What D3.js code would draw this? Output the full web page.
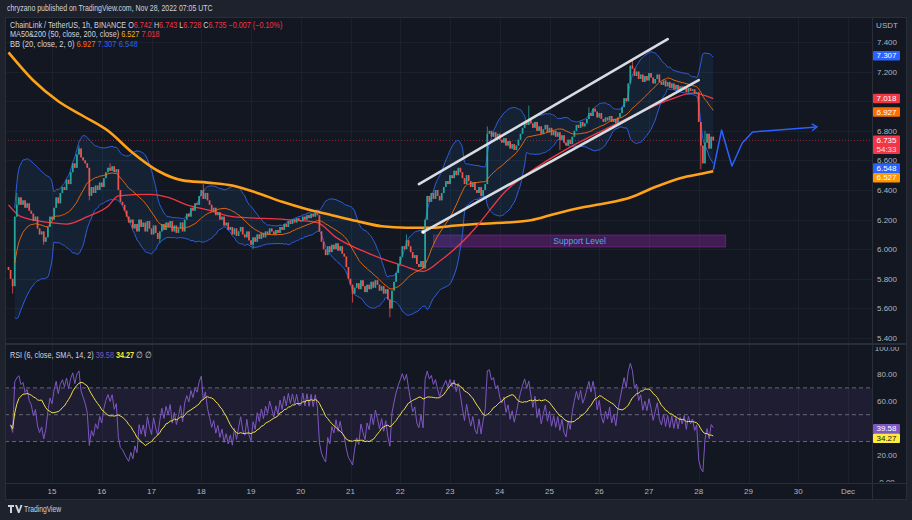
<!DOCTYPE html>
<html>
<head>
<meta charset="utf-8">
<script src="https://cdn.jsdelivr.net/npm/d3@7"></script>
<style>
  html, body { margin: 0; padding: 0; background: #1e222d; }
  svg { display: block; font-family: "Liberation Sans", Arial, sans-serif; }
</style>
</head>
<body>
<div id="chart"></div>
<script>
// ---- data ----
const startHour = Date.UTC(2022, 10, 14, 3); // first hourly bar

// hourly closes, LINK/USDT
const closes = [
  5.86, 5.80, 5.75, 6.22,
  6.30, 6.35, 6.30, 6.33, 6.28, 6.31, 6.26,
  6.24, 6.19, 6.22, 6.14, 6.10, 6.12, 6.05,
  6.08, 6.15, 6.22, 6.20, 6.28,
  6.35, 6.31, 6.38, 6.42, 6.40, 6.47, 6.44, 6.52,
  6.58, 6.55, 6.64, 6.68, 6.62,
  6.60, 6.58, 6.55, 6.36,
  6.42, 6.38, 6.43, 6.40, 6.45, 6.42, 6.48,
  6.52, 6.55, 6.53, 6.56, 6.52, 6.54,
  6.40, 6.32, 6.30, 6.26,
  6.22, 6.18, 6.20, 6.14, 6.17, 6.12,
  6.20, 6.15, 6.18, 6.12, 6.19, 6.14, 6.10, 6.16, 6.11, 6.07, 6.12,
  6.17, 6.13, 6.18, 6.15, 6.19, 6.12, 6.16, 6.11, 6.14, 6.18, 6.12, 6.20,
  6.24, 6.22, 6.28, 6.26, 6.31, 6.30,
  6.36, 6.40, 6.34, 6.38,
  6.33, 6.30, 6.26, 6.28, 6.23, 6.25,
  6.20, 6.22, 6.16, 6.18, 6.13, 6.15, 6.10, 6.14, 6.09,
  6.12, 6.15, 6.10, 6.08, 6.12, 6.06, 6.03, 6.08,
  6.05, 6.10, 6.07, 6.11, 6.08, 6.12, 6.10, 6.14, 6.12,
  6.10, 6.13, 6.11, 6.15, 6.13, 6.17, 6.15, 6.19, 6.17, 6.20, 6.18, 6.21, 6.19,
  6.19, 6.22, 6.20, 6.23, 6.21, 6.24, 6.22, 6.25, 6.23,
  6.12, 6.05, 6.00, 5.96, 6.02, 5.98,
  6.03, 6.00, 6.04, 5.99, 6.02, 5.97, 5.95,
  5.88, 5.80, 5.76, 5.70, 5.74,
  5.77, 5.73, 5.79, 5.75, 5.71, 5.76, 5.73, 5.78, 5.74, 5.79, 5.76, 5.72,
  5.75, 5.70, 5.73, 5.66, 5.60,
  5.72, 5.78, 5.84, 5.90, 5.95, 6.02, 6.00, 6.06,
  6.02, 5.98, 5.94, 5.96, 5.90, 5.88, 5.92, 5.87,
  6.20, 6.36, 6.32,
  6.38, 6.34, 6.40, 6.36, 6.33, 6.38, 6.42,
  6.46, 6.44, 6.50, 6.48, 6.53, 6.50, 6.55, 6.52,
  6.48, 6.44, 6.50, 6.46, 6.42, 6.45, 6.40,
  6.38, 6.42, 6.36, 6.40, 6.44,
  6.78,
  6.80, 6.76, 6.79, 6.75, 6.78, 6.74,
  6.72, 6.75, 6.70, 6.73, 6.68, 6.71, 6.67, 6.70, 6.74,
  6.78, 6.82, 6.86, 6.84, 6.88,
  6.85, 6.82, 6.86, 6.80, 6.83, 6.78, 6.81, 6.84, 6.79, 6.82, 6.77, 6.80, 6.76, 6.79,
  6.74, 6.77, 6.72, 6.70, 6.74, 6.71, 6.76,
  6.80, 6.84, 6.82, 6.86, 6.83, 6.85, 6.88,
  6.92, 6.90, 6.95, 6.93, 6.89, 6.92,
  6.88, 6.86, 6.89, 6.87, 6.90, 6.86, 6.88, 6.85, 6.89, 6.92,
  6.96, 7.02, 7.00,
  7.12, 7.24, 7.22,
  7.17, 7.20, 7.15, 7.18, 7.13, 7.17,
  7.14, 7.19, 7.16, 7.12, 7.15, 7.18, 7.13, 7.11,
  7.14, 7.10, 7.13, 7.09, 7.12, 7.08, 7.11, 7.07, 7.10, 7.08,
  7.10, 7.06, 7.09, 7.07, 7.08, 7.05, 7.06,
  6.86, 6.70, 6.58,
  6.72, 6.78, 6.68, 6.76, 6.735
];
const firstOpen = 5.88;

// visible wicks [hour, price]
const wickHighs = [[4, 6.38], [34, 6.70], [49, 6.58], [94, 6.44], [192, 6.10], [231, 6.83], [251, 6.97], [280, 6.96], [301, 7.28], [336, 6.80]];
const wickLows = [[2, 5.70], [17, 6.03], [39, 6.33], [73, 6.04], [118, 6.00], [166, 5.64], [184, 5.54], [266, 6.67], [334, 6.54]];

// moving averages [hour, price]
const ma50 = [[0, 6.30], [6, 6.22], [20, 6.18], [28, 6.17], [38, 6.22], [48, 6.29], [53, 6.36], [68, 6.37], [77, 6.35],
  [86, 6.30], [96, 6.265], [108, 6.22], [134, 6.20], [149, 6.18], [158, 6.08], [174, 5.97], [190, 5.89], [200, 5.85],
  [209, 5.93], [225, 6.14], [228, 6.19], [239, 6.38], [255, 6.555], [271, 6.69], [287, 6.805], [304, 6.92],
  [319, 7.01], [330, 7.055], [340, 7.018]];
const ma200 = [[0, 7.33], [12, 7.14], [24, 7.00], [36, 6.90], [48, 6.80], [60, 6.65], [72, 6.53], [84, 6.465], [96, 6.45],
  [108, 6.43], [120, 6.38], [132, 6.32], [144, 6.27], [156, 6.23], [168, 6.19], [180, 6.155], [192, 6.145], [204, 6.145],
  [216, 6.16], [228, 6.172], [240, 6.18], [252, 6.195], [264, 6.24], [276, 6.28], [288, 6.31], [300, 6.35], [312, 6.42],
  [324, 6.48], [336, 6.515], [340, 6.527]];

// drawings
const channelUpper = [[198, 6.44], [318, 7.42]];
const channelLower = [[200, 6.116], [333, 7.143]];
const supportHours = [205, 346];
const supportPrices = [6.015, 6.096];
const projection = [[340, 6.535], [344, 6.805], [349, 6.562], [354, 6.718], [359, 6.792], [390, 6.826]];

// axes
const priceTicks = [5.4, 5.6, 5.8, 6.0, 6.2, 6.4, 6.6, 6.8, 7.0, 7.2, 7.4];
const rsiTicks = [0, 20, 40, 60, 80, 100];
const rsiLevels = [70, 50, 30];

// last values shown on the scales
const priceTags = [[7.307, '#2962ff'], [7.018, '#f23645'], [6.927, '#ff6d00'], [6.735, '#f23645'], [6.548, '#2962ff'], [6.527, '#ff9800']];
const rsiTags = [[39.58, '#7e57c2', '#ffffff'], [34.27, '#ffeb3b', '#131722']];

// ---- layout ----
const W = 912, H = 520;
const frame = { left: 5, top: 17, right: 907, bottom: 500 };
const plotRight = 872;
const pricePane = { top: 17, bottom: 343 };
const rsiPane = { top: 345, bottom: 483 };

const svg = d3.select('#chart').append('svg')
  .attr('width', W).attr('height', H);

svg.append('rect').attr('width', W).attr('height', H).attr('fill', '#1e222d');
svg.append('rect')
  .attr('x', frame.left).attr('y', frame.top)
  .attr('width', frame.right - frame.left).attr('height', frame.bottom - frame.top)
  .attr('fill', '#131722');

const hourDate = h => new Date(startHour + h * 3600e3);

const x = d3.scaleUtc()
  .domain([hourDate(0), new Date(Date.UTC(2022, 11, 1))])
  .range([8.5, 848]);
const y = d3.scaleLinear().domain([5.4, 7.4]).range([338, 42]);
const yr = d3.scaleLinear().domain([0, 100]).range([481.8, 347.6]);
const xh = h => x(hourDate(h));

const defs = svg.append('defs');
defs.append('clipPath').attr('id', 'clipPrice').append('rect')
  .attr('x', frame.left).attr('y', pricePane.top)
  .attr('width', plotRight - frame.left).attr('height', pricePane.bottom - pricePane.top);
defs.append('clipPath').attr('id', 'clipRsi').append('rect')
  .attr('x', frame.left).attr('y', rsiPane.top)
  .attr('width', plotRight - frame.left).attr('height', rsiPane.bottom - rsiPane.top);
defs.append('clipPath').attr('id', 'clipRsiAxis').append('rect')
  .attr('x', plotRight).attr('y', 347)
  .attr('width', frame.right - plotRight).attr('height', 482 - 347);

// ---- grid ----
const days = x.ticks(d3.utcDay.every(1));
const grid = svg.append('g').attr('stroke', '#1c202c').attr('stroke-width', 1);
grid.selectAll('.vg').data(days).join('line')
  .attr('x1', d => Math.round(x(d)) + 0.5).attr('x2', d => Math.round(x(d)) + 0.5)
  .attr('y1', frame.top).attr('y2', rsiPane.bottom);
grid.selectAll('.hg').data(priceTicks).join('line')
  .attr('x1', frame.left).attr('x2', plotRight)
  .attr('y1', d => Math.round(y(d)) + 0.5).attr('y2', d => Math.round(y(d)) + 0.5);

// ---- indicators computed from closes ----
const opens = closes.map((c, i) => i === 0 ? firstOpen : closes[i - 1]);
const bars = closes.map((c, i) => ({ h: i, o: opens[i], c, hi: Math.max(opens[i], c), lo: Math.min(opens[i], c) }));
wickHighs.forEach(([h, v]) => { bars[h].hi = Math.max(bars[h].hi, v); });
wickLows.forEach(([h, v]) => { bars[h].lo = Math.min(bars[h].lo, v); });

const bb = closes.map((c, i) => {
  const win = closes.slice(Math.max(0, i - 19), i + 1);
  const m = d3.mean(win);
  const sd = Math.sqrt(d3.mean(win, v => (v - m) * (v - m)));
  return { h: i, mid: m, up: m + 2 * sd, dn: m - 2 * sd };
}).slice(3);

// RSI(6) with Wilder smoothing, then SMA(14); seeded neutral from the mean move of the first day
const changes = closes.slice(1).map((c, i) => c - closes[i]);
const seed = d3.mean(changes.slice(0, 24), Math.abs) / 2;
const rsi = [];
let avgUp = seed, avgDn = seed;
changes.forEach((ch, k) => {
  const up = Math.max(ch, 0), dn = Math.max(-ch, 0);
  avgUp = (avgUp * 5 + up) / 6; avgDn = (avgDn * 5 + dn) / 6;
  const v = avgDn === 0 ? 100 : 100 - 100 / (1 + avgUp / avgDn);
  rsi.push({ h: k + 1, v });
});
const rsiMa = rsi.map((d, i) => ({ h: d.h, v: d3.mean(rsi.slice(Math.max(0, i - 13), i + 1), e => e.v) }));

// ---- price pane ----
const pane = svg.append('g').attr('clip-path', 'url(#clipPrice)');

// current price line
pane.append('line')
  .attr('x1', frame.left).attr('x2', plotRight)
  .attr('y1', y(6.735)).attr('y2', y(6.735))
  .attr('stroke', '#f23645').attr('stroke-opacity', 0.55)
  .attr('stroke-dasharray', '1,2');

// support zone
pane.append('rect')
  .attr('x', xh(supportHours[0])).attr('width', xh(supportHours[1]) - xh(supportHours[0]))
  .attr('y', y(supportPrices[1])).attr('height', y(supportPrices[0]) - y(supportPrices[1]))
  .attr('fill', 'rgba(156, 39, 176, 0.35)')
  .attr('stroke', 'rgba(156, 39, 176, 0.6)').attr('stroke-width', 0.8);
pane.append('text')
  .attr('x', (xh(supportHours[0]) + xh(supportHours[1])) / 2)
  .attr('y', (y(supportPrices[0]) + y(supportPrices[1])) / 2 + 3)
  .attr('text-anchor', 'middle').attr('fill', '#4fa8e8')
  .attr('font-size', 8.5).text('Support Level');

// bollinger fill + bands
pane.append('path').datum(bb)
  .attr('fill', 'rgba(33, 150, 243, 0.09)')
  .attr('d', d3.area().x(d => xh(d.h)).y0(d => y(d.dn)).y1(d => y(d.up)).curve(d3.curveMonotoneX));
const bandLine = key => d3.line().x(d => xh(d.h)).y(d => y(d[key])).curve(d3.curveMonotoneX);
['up', 'dn'].forEach(k => pane.append('path').datum(bb)
  .attr('fill', 'none').attr('stroke', '#2f5fe0').attr('stroke-width', 1)
  .attr('d', bandLine(k)));

// MA200 and MA50
const ptLine = d3.line().x(d => xh(d[0])).y(d => y(d[1])).curve(d3.curveMonotoneX);
pane.append('path').datum(ma200)
  .attr('fill', 'none').attr('stroke', '#ffa21a').attr('stroke-width', 2.6)
  .attr('d', ptLine);
pane.append('path').datum(ma50)
  .attr('fill', 'none').attr('stroke', '#f23645').attr('stroke-width', 1.3)
  .attr('d', ptLine);

// candles
const cg = pane.append('g');
cg.selectAll('line').data(bars).join('line')
  .attr('x1', d => xh(d.h)).attr('x2', d => xh(d.h))
  .attr('y1', d => y(d.hi)).attr('y2', d => y(d.lo))
  .attr('stroke', d => d.c >= d.o ? '#26a69a' : '#ef5350').attr('stroke-width', 0.8);
cg.selectAll('rect').data(bars).join('rect')
  .attr('x', d => xh(d.h) - 0.85).attr('width', 1.7)
  .attr('y', d => y(Math.max(d.o, d.c)))
  .attr('height', d => Math.max(0.8, Math.abs(y(d.o) - y(d.c))))
  .attr('fill', d => d.c >= d.o ? '#26a69a' : '#ef5350');

// BB basis on top of candles
pane.append('path').datum(bb)
  .attr('fill', 'none').attr('stroke', '#ff6d00').attr('stroke-width', 0.9)
  .attr('d', bandLine('mid'));

// channel lines
[channelUpper, channelLower].forEach(seg => pane.append('line')
  .attr('x1', xh(seg[0][0])).attr('y1', y(seg[0][1]))
  .attr('x2', xh(seg[1][0])).attr('y2', y(seg[1][1]))
  .attr('stroke', '#d8dbe2').attr('stroke-width', 2.6).attr('stroke-linecap', 'round'));
pane.append('circle')
  .attr('cx', xh(channelLower[0][0])).attr('cy', y(channelLower[0][1])).attr('r', 1.8)
  .attr('fill', '#ffffff');

// projection path with arrow
pane.append('path').datum(projection)
  .attr('fill', 'none').attr('stroke', '#2962ff').attr('stroke-width', 1.5)
  .attr('stroke-linejoin', 'round')
  .attr('d', d3.line().x(d => xh(d[0])).y(d => y(d[1])));
const pe = projection[projection.length - 1], pp = projection[projection.length - 2];
const ang = Math.atan2(y(pe[1]) - y(pp[1]), xh(pe[0]) - xh(pp[0]));
const ax = xh(pe[0]), ay = y(pe[1]);
pane.append('path')
  .attr('d', `M${ax - 6 * Math.cos(ang - 0.6)},${ay - 6 * Math.sin(ang - 0.6)}L${ax},${ay}L${ax - 6 * Math.cos(ang + 0.6)},${ay - 6 * Math.sin(ang + 0.6)}`)
  .attr('fill', 'none').attr('stroke', '#2962ff').attr('stroke-width', 1.5);

// ---- RSI pane ----
const rp = svg.append('g').attr('clip-path', 'url(#clipRsi)');
rp.append('rect')
  .attr('x', frame.left).attr('width', plotRight - frame.left)
  .attr('y', yr(70)).attr('height', yr(30) - yr(70))
  .attr('fill', 'rgba(126, 87, 194, 0.1)');
rp.selectAll('.lvl').data(rsiLevels).join('line')
  .attr('x1', frame.left).attr('x2', plotRight)
  .attr('y1', d => yr(d)).attr('y2', d => yr(d))
  .attr('stroke', '#787b86').attr('stroke-opacity', 0.8).attr('stroke-dasharray', '4,3');
rp.append('path').datum(rsi)
  .attr('fill', 'none').attr('stroke', '#7e57c2').attr('stroke-width', 1)
  .attr('d', d3.line().x(d => xh(d.h)).y(d => yr(d.v)));
rp.append('path').datum(rsiMa)
  .attr('fill', 'none').attr('stroke', '#f0e14a').attr('stroke-width', 1)
  .attr('d', d3.line().x(d => xh(d.h)).y(d => yr(d.v)));

// ---- separators ----
const sep = svg.append('g').attr('stroke', '#2a2e39');
sep.append('line').attr('x1', frame.left).attr('x2', frame.right).attr('y1', 344).attr('y2', 344).attr('stroke-width', 2);
sep.append('line').attr('x1', frame.left).attr('x2', frame.right).attr('y1', 483.5).attr('y2', 483.5);
sep.append('line').attr('x1', plotRight + 0.5).attr('x2', plotRight + 0.5).attr('y1', frame.top).attr('y2', frame.bottom);
svg.append('rect')
  .attr('x', frame.left + 0.5).attr('y', frame.top + 0.5)
  .attr('width', frame.right - frame.left - 1).attr('height', frame.bottom - frame.top - 1)
  .attr('fill', 'none').attr('stroke', '#2a2e39');

// ---- scales ----
const axisText = '#b2b5be';
const labelX = 887;

// resolve overlapping tags
function stackTags(tags, scale, hFor) {
  const items = tags.map(t => ({ v: t[0], fill: t[1], ink: t[2] || '#ffffff', cy: scale(t[0]), h: hFor(t[0]) }));
  items.sort((a, b) => a.cy - b.cy);
  let lastBottom = -Infinity;
  items.forEach(it => {
    let top = it.cy - 4.8;
    if (top < lastBottom) top = lastBottom;
    it.top = top;
    lastBottom = top + it.h;
  });
  return items;
}
const pTags = stackTags(priceTags, y, v => v === 6.735 ? 18.5 : 9.6);
const rTags = stackTags(rsiTags, yr, () => 9.6);

const hide = (val, scale, tags) => tags.some(t => Math.abs(scale(val) - (t.top + 4.8)) < 6);

svg.append('g').selectAll('text')
  .data(priceTicks.filter(v => !hide(v, y, pTags)))
  .join('text')
  .attr('x', labelX).attr('y', d => y(d) + 3)
  .attr('text-anchor', 'middle').attr('fill', axisText).attr('font-size', 8)
  .text(d => d3.format('.3f')(d));

const rAxis = svg.append('g').attr('clip-path', 'url(#clipRsiAxis)');
rAxis.selectAll('text')
  .data(rsiTicks.filter(v => !hide(v, yr, rTags)))
  .join('text')
  .attr('x', labelX).attr('y', d => yr(d) + 3)
  .attr('text-anchor', 'middle').attr('fill', axisText).attr('font-size', 8)
  .text(d => d3.format('.2f')(d));

svg.append('text').attr('x', labelX).attr('y', 28)
  .attr('text-anchor', 'middle').attr('fill', axisText).attr('font-size', 8).text('USDT');

function drawTags(items, fmt) {
  const g = svg.append('g');
  items.forEach(it => {
    g.append('rect').attr('x', 873).attr('y', it.top).attr('width', 27).attr('height', it.h)
      .attr('rx', 1).attr('fill', it.fill);
    g.append('text').attr('x', 886.5).attr('y', it.top + 7.4)
      .attr('text-anchor', 'middle').attr('fill', it.ink).attr('font-size', 8).text(fmt(it.v));
    if (it.h > 10) {
      g.append('text').attr('x', 886.5).attr('y', it.top + 16)
        .attr('text-anchor', 'middle').attr('fill', '#ffffff').attr('fill-opacity', 0.85)
        .attr('font-size', 8).text('54:33');
    }
  });
}
drawTags(pTags, d3.format('.3f'));
drawTags(rTags, d3.format('.2f'));

// time axis
svg.append('g').selectAll('text').data(days.filter(d => x(d) > 20)).join('text')
  .attr('x', d => x(d)).attr('y', 494)
  .attr('text-anchor', 'middle').attr('fill', axisText).attr('font-size', 8)
  .text(d => d.getUTCDate() === 1 ? d3.utcFormat('%b')(d) : d.getUTCDate());

// ---- legends ----
function legend(yPos, parts, size) {
  const t = svg.append('text').attr('x', 10).attr('y', yPos).attr('font-size', size || 8.5);
  parts.forEach(([s, c, w]) => t.append('tspan').attr('fill', c).attr('font-weight', w || null).text(s));
  return t;
}
function fitWidth(t, target) {
  const w = t.node().getBBox().width;
  const x0 = +t.attr('x');
  t.attr('transform', `translate(${x0},0) scale(${target / w},1) translate(${-x0},0)`);
}
const txt = '#d1d4dc';
const red = '#f23645';
const hdr = svg.append('text').attr('x', 7).attr('y', 11).attr('font-size', 8.5).attr('fill', txt)
  .text('chryzano published on TradingView.com, Nov 28, 2022 07:05 UTC');
fitWidth(hdr, 206);

fitWidth(legend(28, [['ChainLink / TetherUS, 1h, BINANCE  ', txt], ['O', txt], ['6.742  ', red], ['H', txt], ['6.743  ', red],
  ['L', txt], ['6.728  ', red], ['C', txt], ['6.735  −0.007 (−0.10%)', red]]), 273);
fitWidth(legend(37.5, [['MA50&200 (50, close, 200, close)  ', txt], ['6.527  ', '#f5b400'], ['7.018', red]]), 150);
fitWidth(legend(47, [['BB (20, close, 2, 0)  ', txt], ['6.927  ', '#ff6d00'], ['7.307  ', '#2962ff'], ['6.548', '#2962ff']]), 128);
fitWidth(legend(358, [['RSI (6, close, SMA, 14, 2)  ', txt], ['39.58  ', '#7e57c2'], ['34.27  ', '#ffeb3b', 'bold'], ['∅  ∅', txt]]), 142);

// ---- footer logo ----
const logo = svg.append('g').attr('transform', 'translate(8,504)');
logo.append('path').attr('d', 'M0,1H6V3H4V9H2V3H0Z M7,1L9,1L11,6L12.5,1L14.5,1L11.5,9L10,9Z').attr('fill', '#d1d4dc');
const tvText = svg.append('text').attr('x', 24).attr('y', 512).attr('font-size', 8.5).attr('fill', '#d1d4dc').text('TradingView');
fitWidth(tvText, 38);
</script>
</body>
</html>
